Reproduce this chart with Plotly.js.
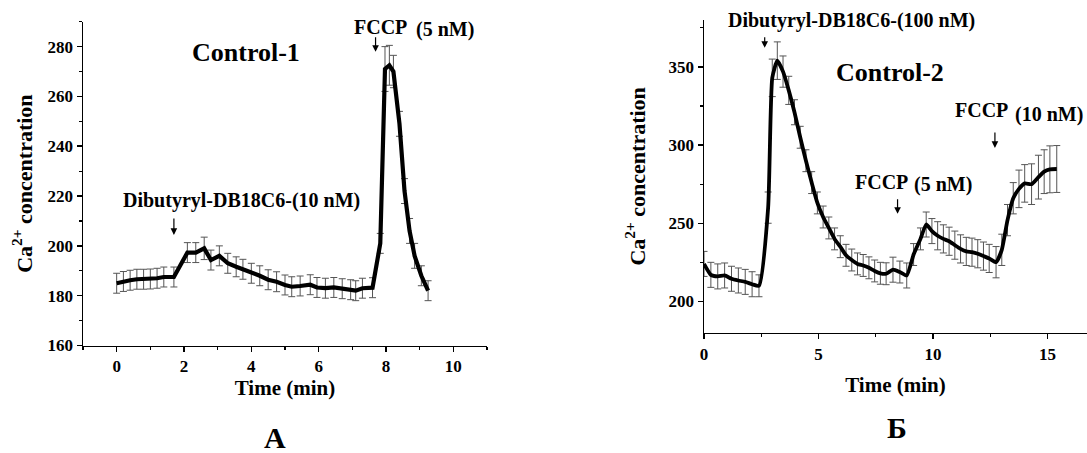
<!DOCTYPE html>
<html>
<head>
<meta charset="utf-8">
<script src="https://cdn.plot.ly/plotly-3.0.1.min.js"></script>
<style>html,body{margin:0;padding:0;background:#fff}#chart{width:1087px;height:453px}</style>
</head>
<body>
<div id="chart"></div>
<script>
// Panel A (Control-1)
const timeA = [0,0.2,0.4,0.6,0.8,1.0,1.2,1.4,1.7,
  2.1,2.35,2.6,2.8,3.05,
  3.3,3.55,3.75,4.0,4.25,4.5,4.75,5.0,5.2,5.45,5.75,5.95,6.2,6.45,6.7,6.95,7.1,7.3,7.6,
  7.83,7.97,8.1,8.22,8.4,8.55,8.7,8.85,9.05,9.25];
const caA = [185,185.7,186.2,186.6,186.6,186.7,187,187.5,187.5,
  197.3,197.3,199,194.3,196,
  193,191.6,190.6,189,188,186.4,185.6,184.3,183.6,183.9,184.4,183.3,183,183.3,182.8,182.4,182,183,183.2,
  201,271,272.5,270,249,222,206,196,188,182];
const errA = [4,4,4,4,4,4,4,4,4,
  4,4,4.5,4,4,
  4,4,4,4,4,4,4,4,4,4,4,4,4,4,4,4,4,4,4,
  4,9,8,6.5,5,5,5,5,4,4];

// Panel Б (Control-2)
const timeB = [0,0.3,0.6,0.9,1.2,1.5,1.8,2.1,2.4,2.8,2.98,3.2,3.45,3.7,3.95,4.2,4.45,4.7,4.95,5.2,5.45,5.7,5.95,
  6.2,6.45,6.7,6.95,7.2,7.45,7.7,7.95,8.25,8.55,8.85,9.15,9.45,9.7,9.95,10.2,10.45,10.7,10.95,11.2,11.45,11.7,
  11.95,12.2,12.45,12.75,13.0,13.25,13.5,13.75,14.0,14.3,14.6,14.85,15.1,15.4];
const caB = [224,217,216,216.6,214.5,213.4,212.5,211,210,260,343,354,347,335,321,305,290,276,263,254,247,240,235,
  229.5,226.5,224,223,221.5,219.5,218,217.7,220.3,218.8,216.6,230,240,249.2,245,242,240,238.5,236,233.6,232,231.5,
  230.5,229,227.5,225.1,233,252,266,272,275.5,275,279.5,283,284.5,284.7];
const errB = [8,8,8,8,8,8,8,8,7,10,12,12,10,9,8,7,7,7,7,7,7,7,7,
  7,7,7,7,7,7,7,7,8,7,8,7,7,8,8,9,9,9,9,9,9,9,
  9,9,9,10,10,10,10,12,12,13,14,14,15,15];

const yTicksA = [160,180,200,220,240,260,280];
const xTicksA = [0,2,4,6,8,10];
const yTicksB = [200,250,300,350];
const xTicksB = [0,5,10,15];

const FONT = "Liberation Serif, Times New Roman, serif";
const W = 1087, H = 453;
const px = x => x / W;
const py = y => 1 - y / H;

const errStyle = {type:'data', visible:true, color:'#555', thickness:1, width:3.5};

const traces = [
  {x: timeA, y: caA, xaxis:'x', yaxis:'y', type:'scatter', mode:'lines',
   line:{color:'#000', width:4.2},
   error_y: Object.assign({array: errA}, errStyle), hoverinfo:'x+y'},
  {x: timeB, y: caB, xaxis:'x2', yaxis:'y2', type:'scatter', mode:'lines',
   line:{color:'#000', width:3.8, shape:'spline', smoothing:0.5},
   error_y: Object.assign({array: errB}, errStyle), hoverinfo:'x+y'}
];

function axisCommon(extra){
  return Object.assign({
    showline:true, linecolor:'#000', linewidth:1.5, mirror:false,
    ticks:'outside', ticklen:5, tickwidth:1.5, tickcolor:'#000',
    showgrid:false, zeroline:false,
    tickfont:{family:FONT, size:17, color:'#000', weight:'bold'}
  }, extra);
}
const titleFont = {family:FONT, size:21, color:'#000', weight:'bold'};
const yTitleFont = {family:FONT, size:22, color:'#000', weight:'bold'};

const layout = {
  width: W, height: H,
  margin:{l:0, r:0, t:0, b:0},
  paper_bgcolor:'#fff', plot_bgcolor:'#fff',
  showlegend:false,
  xaxis: axisCommon({domain:[px(83), px(487)], range:[-1, 11], anchor:'y',
    tickvals: xTicksA, ticktext: xTicksA.map(String),
    minor:{dtick:1, tick0:0, ticks:'outside', ticklen:3, tickwidth:1.2, tickcolor:'#000'},
    title:{text:'Time (min)', standoff:2, font:titleFont}}),
  yaxis: axisCommon({domain:[py(345.5), py(21.7)], range:[160, 290], anchor:'x',
    tickvals: yTicksA, ticktext: yTicksA.map(String),
    minor:{dtick:10, tick0:0, ticks:'outside', ticklen:3, tickwidth:1.2, tickcolor:'#000'},
    title:{text:'Ca<sup>2+</sup> concentration', standoff:9, font:yTitleFont}}),
  xaxis2: axisCommon({domain:[px(704), 1], range:[0, 16.72], anchor:'y2',
    tickvals: xTicksB, ticktext: xTicksB.map(String),
    minor:{dtick:2.5, tick0:0, ticks:'outside', ticklen:3, tickwidth:1.2, tickcolor:'#000'},
    title:{text:'Time (min)', standoff:14, font:titleFont}}),
  yaxis2: axisCommon({domain:[py(332.7), py(20)], range:[180, 380], anchor:'x2',
    tickvals: yTicksB, ticktext: yTicksB.map(String),
    minor:{dtick:25, tick0:0, ticks:'outside', ticklen:3, tickwidth:1.2, tickcolor:'#000'},
    title:{text:'Ca<sup>2+</sup> concentration', standoff:17, font:yTitleFont}}),
  annotations: []
};

function label(text, x, y, size){
  layout.annotations.push({text:'<b>'+text+'</b>', xref:'paper', yref:'paper', x:px(x), y:py(y),
    xanchor:'center', yanchor:'middle', showarrow:false,
    font:{family:FONT, size:size, color:'#000'}});
}
function arrow(xref, yref, x, y, len){
  layout.annotations.push({text:'', xref:xref, yref:yref, x:x, y:y, ax:0, ay:-len,
    showarrow:true, arrowhead:2, arrowsize:1.1, arrowwidth:1.2, arrowcolor:'#000', standoff:0});
}

label('Control-1', 246, 52, 26);
label('Dibutyryl-DB18C6-(10 nM)', 241, 200, 20);
label('FCCP', 380, 27.5, 20);
label('(5 nM)', 445, 29.5, 20);
label('Control-2', 890, 73, 26);
label('Dibutyryl-DB18C6-(100 nM)', 851, 20, 20);
label('FCCP', 981.5, 110, 20);
label('(10 nM)', 1048.5, 115, 20);
label('FCCP', 881, 182, 20);
label('(5 nM)', 942.5, 184, 20);
label('А', 275, 437, 30);
label('Б', 897, 427, 30);

arrow('x', 'y', 1.70, 204.4, 18);
arrow('x', 'y', 7.69, 277.9, 16);
arrow('x2', 'y2', 2.65, 362.2, 12);
arrow('x2', 'y2', 12.7, 298.2, 17);
arrow('x2', 'y2', 8.45, 256, 16);

Plotly.newPlot('chart', traces, layout, {staticPlot:true, displayModeBar:false});
</script>
</body>
</html>
